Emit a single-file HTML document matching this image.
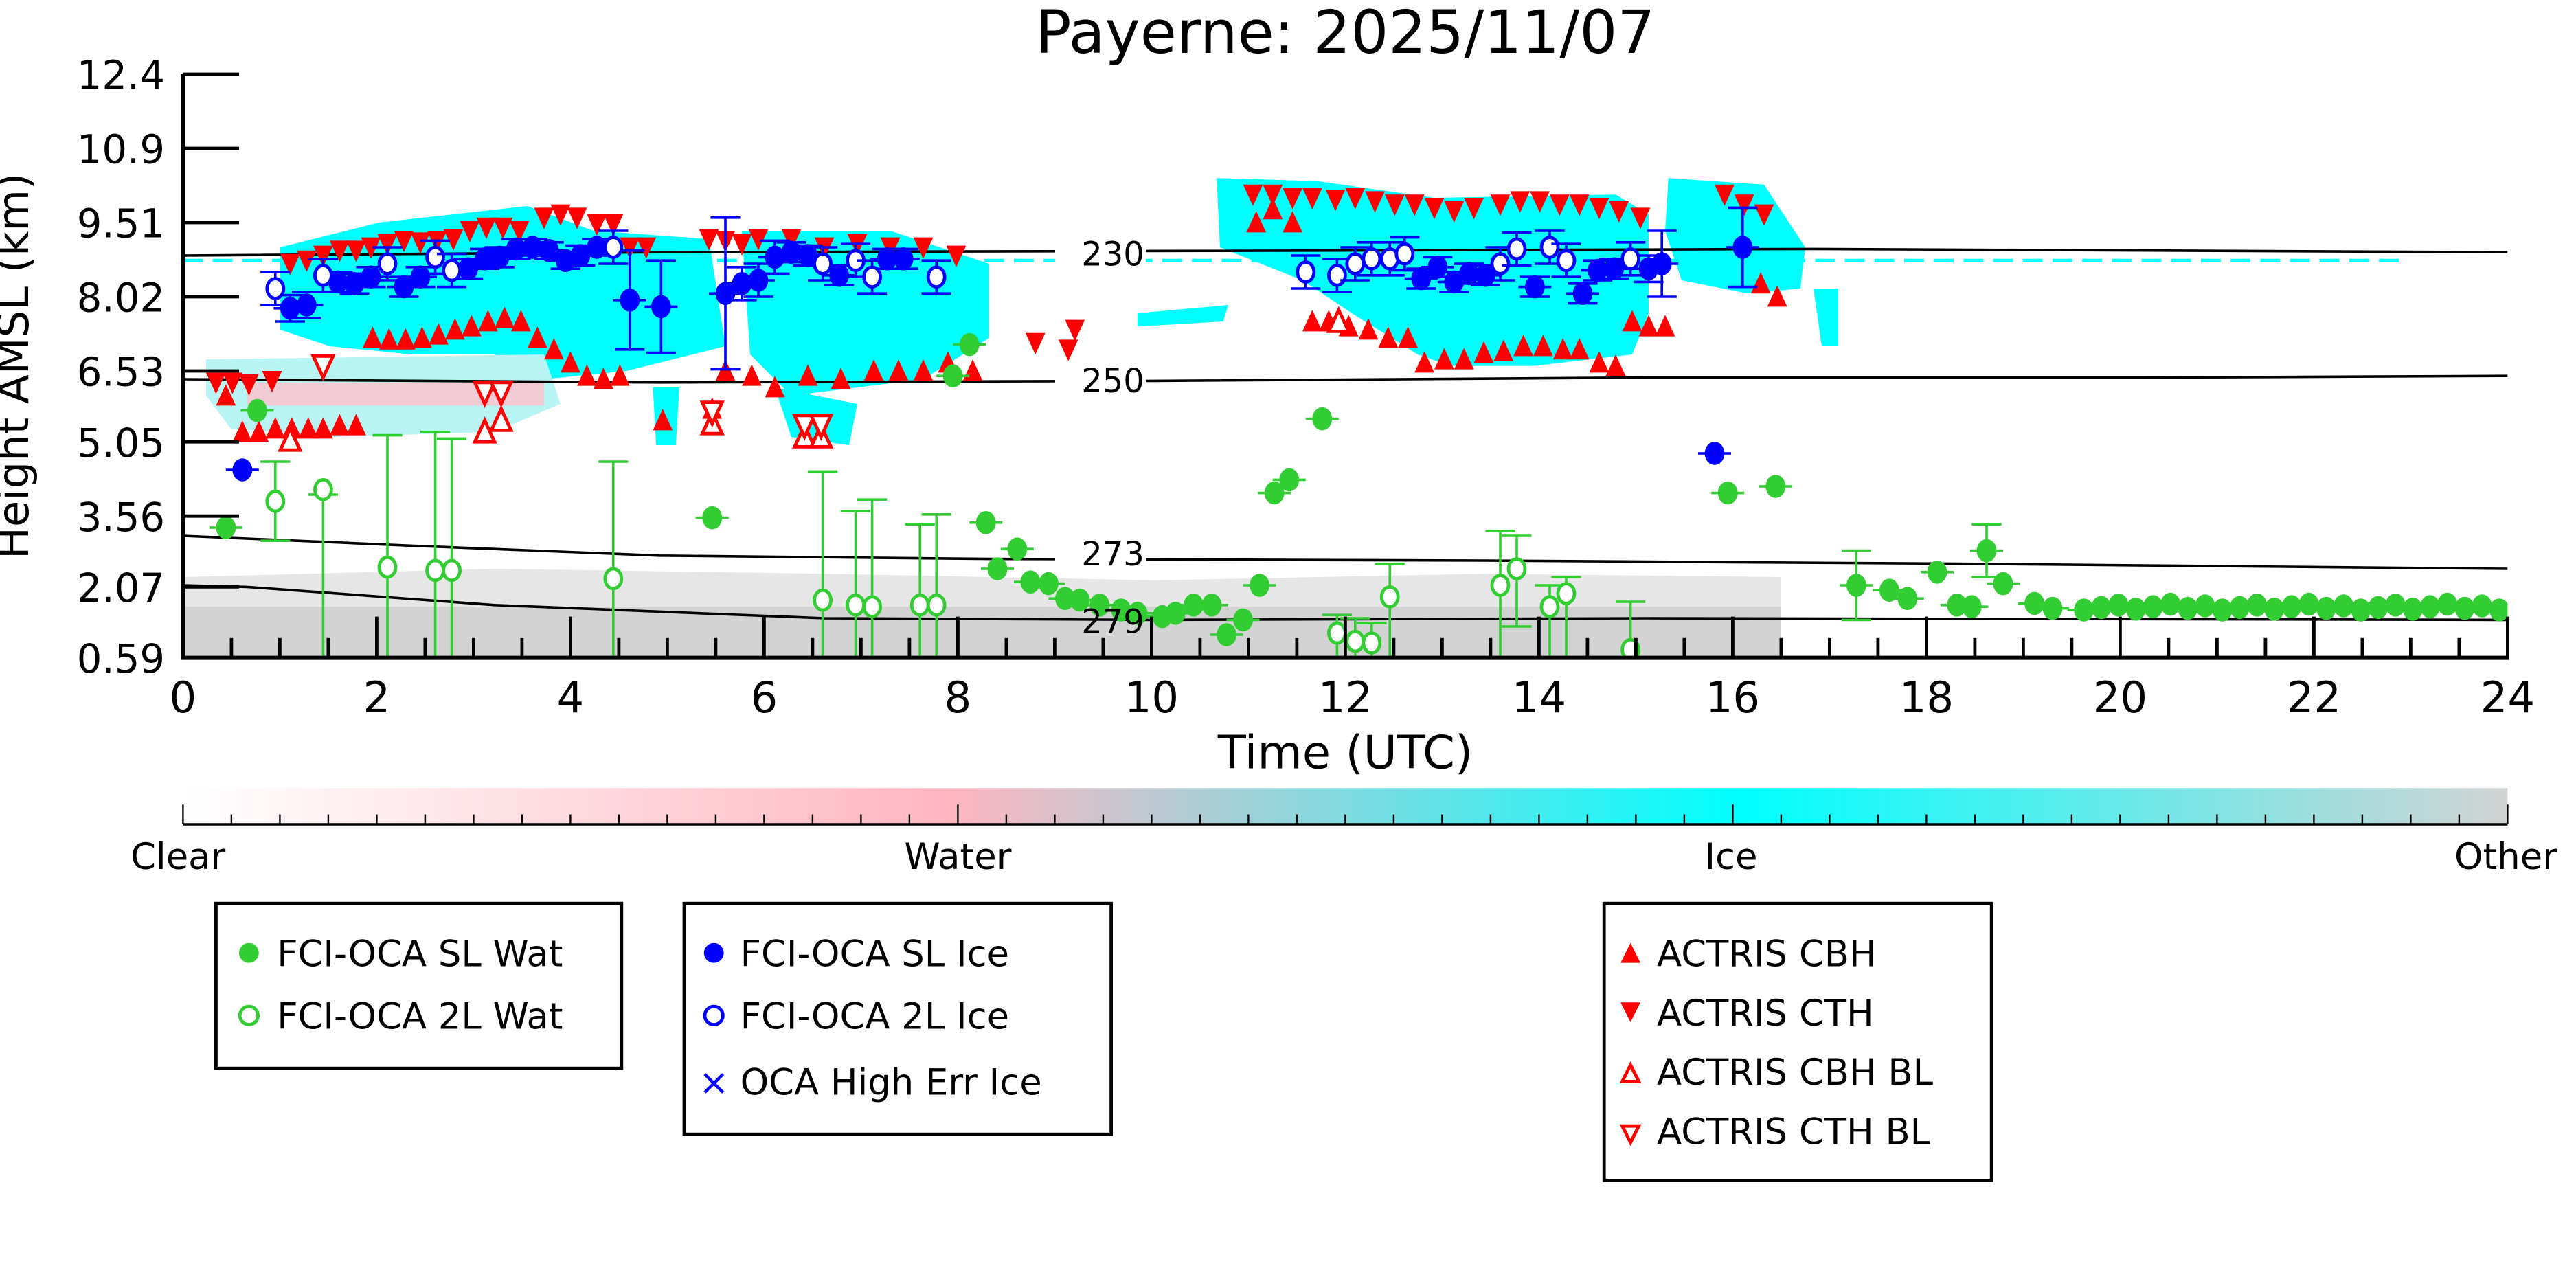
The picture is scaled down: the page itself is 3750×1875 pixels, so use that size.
<!DOCTYPE html>
<html><head><meta charset="utf-8"><style>
html,body{margin:0;padding:0;background:#fff}
svg{display:block}
text{font-family:"DejaVu Sans","Liberation Sans",sans-serif}
</style></head><body>
<svg id="s" xmlns="http://www.w3.org/2000/svg" width="3750" height="1875" viewBox="0 0 1562.5 781.25">
<defs>
<linearGradient id="cb" x1="0" x2="1" y1="0" y2="0">
<stop offset="0" stop-color="#ffffff"/><stop offset="0.33" stop-color="#ffb6c1"/>
<stop offset="0.67" stop-color="#00ffff"/><stop offset="1" stop-color="#d3d3d3"/>
</linearGradient>
<clipPath id="pc"><rect x="111" y="45" width="1410" height="354"/></clipPath>
</defs>
<rect width="1562.5" height="781.25" fill="#fff"/>
<g id="bg" clip-path="url(#pc)">
<path d="M111,350 L300,345 L500,348 L700,352 L900,348 L1080,350 L1080,399 L111,399Z" fill="#e6e6e6"/>
<rect x="111" y="368" width="969" height="31" fill="#d3d3d3"/>
<path d="M170,150 L230,135 L320,125 L360,140 L430,145 L440,210 L380,225 L330,230 L300,215 L250,215 L200,210 L170,200Z" fill="#00ffff"/>
<path d="M125,218 L330,215 L340,245 L300,262 L200,265 L140,260 L125,240Z" fill="#b8f4f4"/>
<rect x="150" y="232" width="180" height="14" fill="#ffc0cb" opacity="0.8"/>
<path d="M450,140 L540,140 L600,160 L600,205 L560,230 L480,240 L455,215Z" fill="#00ffff"/>
<path d="M470,235 L520,245 L515,270 L480,265Z" fill="#00ffff"/>
<path d="M396,235 L412,235 L410,270 L398,270Z" fill="#00ffff"/>
<path d="M738,108 L800,110 L870,120 L980,118 L1000,130 L1000,190 L990,215 L930,222 L880,222 L860,215 L820,190 L790,170 L740,150Z" fill="#00ffff"/>
<path d="M1012,108 L1070,112 L1095,150 L1092,175 L1060,178 L1020,170 L1010,140Z" fill="#00ffff"/>
<path d="M1100,175 L1115,175 L1115,210 L1105,210Z" fill="#00ffff"/>
<path d="M690,190 L745,185 L742,195 L690,198Z" fill="#00ffff"/>
<line x1="111" y1="158" x2="1460" y2="158" stroke="#00ffff" stroke-width="2" stroke-dasharray="12,6"/>
<path d="M111,155 L400,153 L800,152 L1100,151 L1521,153" fill="none" stroke="#000" stroke-width="1.5"/>
<path d="M111,230 L400,232 L700,231 L1000,229 L1300,229 L1521,228" fill="none" stroke="#000" stroke-width="1.5"/>
<path d="M111,325 L250,331 L400,337 L600,339 L900,340 L1200,342 L1521,345" fill="none" stroke="#000" stroke-width="1.5"/>
<path d="M111,355 L150,356 L300,367 L500,375 L700,376 L1000,375 L1521,376" fill="none" stroke="#000" stroke-width="1.5"/>
<g id="data"></g>
</g>
<rect x="640" y="143" width="55" height="20" fill="#fff"/><text x="675" y="161" font-size="20" text-anchor="middle">230</text>
<rect x="640" y="220" width="55" height="20" fill="#fff"/><text x="675" y="238" font-size="20" text-anchor="middle">250</text>
<rect x="640" y="326" width="55" height="20" fill="#fff"/><text x="675" y="343" font-size="20" text-anchor="middle">273</text>
<text x="675" y="384" font-size="20" text-anchor="middle">279</text>
<g stroke="#000" stroke-width="2.5" fill="none">
<line x1="111" y1="45" x2="111" y2="400"/><line x1="110" y1="399" x2="1522" y2="399"/>
</g>
<g id="ticks" stroke="#000" stroke-width="2"></g>
<g id="lab" font-size="24"></g>
<text x="816" y="32" font-size="36" text-anchor="middle">Payerne: 2025/11/07</text>
<text x="816" y="466" font-size="28" text-anchor="middle">Time (UTC)</text>
<text transform="translate(17,222) rotate(-90)" font-size="26" text-anchor="middle">Height AMSL (km)</text>
<rect x="111" y="478" width="1410" height="22" fill="url(#cb)"/>
<line x1="111" y1="500" x2="1521" y2="500" stroke="#000" stroke-width="1.5"/>
<g id="cbt" stroke="#000" stroke-width="1"></g>
<g font-size="22" text-anchor="middle">
<text x="108" y="527">Clear</text><text x="581" y="527">Water</text><text x="1050" y="527">Ice</text><text x="1520" y="527">Other</text>
</g>
<g fill="none" stroke="#000" stroke-width="2">
<rect x="131" y="548" width="246" height="100"/>
<rect x="415" y="548" width="259" height="140"/>
<rect x="973" y="548" width="235" height="168"/>
</g>
<g font-size="22">
<circle cx="151" cy="578" r="6" fill="#32cd32"/><text x="168" y="586">FCI-OCA SL Wat</text>
<circle cx="151" cy="616" r="5.5" fill="#fff" stroke="#32cd32" stroke-width="2"/><text x="168" y="624">FCI-OCA 2L Wat</text>
<circle cx="433" cy="578" r="6" fill="#0000ff"/><text x="449" y="586">FCI-OCA SL Ice</text>
<circle cx="433" cy="616" r="5.5" fill="#fff" stroke="#0000ff" stroke-width="2"/><text x="449" y="624">FCI-OCA 2L Ice</text>
<text x="433" y="664" fill="#0000ff" text-anchor="middle" font-size="22">×</text><text x="449" y="664">OCA High Err Ice</text>
<path d="M983,584 L995,584 L989,572Z" fill="#ff0000"/><text x="1005" y="586">ACTRIS CBH</text>
<path d="M983,608 L995,608 L989,620Z" fill="#ff0000"/><text x="1005" y="622">ACTRIS CTH</text>
<path d="M984,656 L994,656 L989,646Z" fill="#fff" stroke="#ff0000" stroke-width="2"/><text x="1005" y="658">ACTRIS CBH BL</text>
<path d="M984,683 L994,683 L989,693Z" fill="#fff" stroke="#ff0000" stroke-width="2"/><text x="1005" y="694">ACTRIS CTH BL</text>
</g>
</svg>
<script>
var NS="http://www.w3.org/2000/svg";
function el(p,t,a){var e=document.createElementNS(NS,t);for(var k in a)e.setAttribute(k,a[k]);p.appendChild(e);return e;}
var tk=document.getElementById('ticks'),lab=document.getElementById('lab'),d=document.getElementById('data'),cbt=document.getElementById('cbt');
var yt=[[45,"12.4"],[90,"10.9"],[135,"9.51"],[180,"8.02"],[225,"6.53"],[268,"5.05"],[313,"3.56"],[356,"2.07"],[399,"0.59"]];
yt.forEach(function(v){el(tk,'line',{x1:111,y1:v[0],x2:145,y2:v[0]});var t=el(lab,'text',{x:100,y:v[0]+9,'text-anchor':'end'});t.textContent=v[1];});
for(var h=0;h<=48;h++){var x=111+h*29.375;var L=(h%4==0)?25:12;el(tk,'line',{x1:x,y1:399,x2:x,y2:399-L});
 if(h%4==0){var t=el(lab,'text',{x:x,y:432,'text-anchor':'middle','font-size':26});t.textContent=h/2;}}
for(var i=0;i<=48;i++){var x=111+i*29.375;el(cbt,'line',{x1:x,y1:500,x2:x,y2:(i%16==0)?488:494});}
function up(x,y,f){el(d,'path',{d:'M'+(x-6)+','+(y+6)+' L'+(x+6)+','+(y+6)+' L'+x+','+(y-7)+'Z',fill:f?'#f00':'#fff',stroke:'#f00','stroke-width':f?0:2});}
function dn(x,y,f){el(d,'path',{d:'M'+(x-6)+','+(y-6)+' L'+(x+6)+','+(y-6)+' L'+x+','+(y+7)+'Z',fill:f?'#f00':'#fff',stroke:'#f00','stroke-width':f?0:2});}
function eb(x,y1,y2,c){el(d,'line',{x1:x,y1:y1,x2:x,y2:y2,stroke:c,'stroke-width':1.5});el(d,'line',{x1:x-9,y1:y1,x2:x+9,y2:y1,stroke:c,'stroke-width':1.5});el(d,'line',{x1:x-9,y1:y2,x2:x+9,y2:y2,stroke:c,'stroke-width':1.5});}
function pt(x,y,c,fill){el(d,'ellipse',{cx:x,cy:y,rx:fill?6:5,ry:fill?7:6,fill:fill?c:'#fff',stroke:c,'stroke-width':fill?0:2});}
var ct=[[131,232],[141,232],[151,233],[165,231],[176,160],[186,158],[196,155],[206,152],[216,152],[225,150],[235,148],[245,146],[255,147],[265,146],[275,145],[285,140],[295,138],[305,138],[315,140],[330,132],[340,130],[350,132],[362,136],[372,136],[382,150],[392,150],[430,145],[440,146],[450,148],[460,145],[480,145],[500,150],[520,148],[540,150],[560,150],[580,155],[628,208],[652,200],[648,212],[760,118],[772,118],[784,120],[796,120],[810,121],[822,120],[834,122],[846,124],[858,124],[870,126],[882,128],[894,126],[910,124],[922,122],[934,122],[946,124],[958,124],[970,126],[982,128],[995,132],[1046,118],[1058,124],[1070,130]];
ct.forEach(function(p){dn(p[0],p[1],true);});
var cb=[[137,240],[147,262],[157,262],[167,260],[177,260],[187,260],[196,260],[206,258],[216,258],[226,205],[236,206],[246,206],[256,205],[266,203],[276,200],[286,198],[296,195],[306,193],[316,195],[326,205],[336,212],[346,220],[356,228],[366,230],[376,228],[402,255],[432,248],[440,225],[456,228],[470,235],[490,228],[510,230],[530,225],[545,225],[560,225],[575,220],[590,225],[762,135],[772,127],[784,135],[796,195],[806,195],[818,198],[830,200],[842,205],[854,205],[864,220],[876,218],[888,218],[900,214],[912,213],[924,210],[936,210],[948,212],[958,212],[970,220],[980,222],[990,195],[1000,198],[1010,198],[1068,172],[1078,180]];
cb.forEach(function(p){up(p[0],p[1],true);});
[[176,267],[294,262],[304,255],[432,257],[488,265],[498,265],[812,195]].forEach(function(p){up(p[0],p[1],false);});
[[196,222],[294,238],[304,238],[432,250],[488,258],[498,258]].forEach(function(p){dn(p[0],p[1],false);});
var gs=[[137,320],[156,249],[432,314],[588,209],[578,228],[598,317],[605,345],[617,333],[625,353],[636,354],[646,363],[655,364],[667,367],[680,370],[690,372],[705,374],[713,372],[724,367],[735,367],[744,385],[754,376],[764,355],[773,299],[782,291],[802,254],[1048,299],[1077,295],[1126,355],[1146,358],[1157,363],[1175,347],[1187,367],[1196,368],[1205,334],[1215,354],[1234,366],[1245,369]];
for(var x=1264;x<1521;x+=10.5)gs.push([x,370-((x*7)%4)]);
gs.forEach(function(p){el(d,'line',{x1:p[0]-10,y1:p[1],x2:p[0]+10,y2:p[1],stroke:'#32cd32','stroke-width':1.5});pt(p[0],p[1],'#32cd32',true);});
eb(1126,334,376,'#32cd32');eb(1205,318,350,'#32cd32');
var go=[[167,304,280,328],[196,297,300,399],[235,344,264,399],[264,346,262,399],[274,346,266,399],[372,351,280,399],[499,364,286,399],[519,367,310,399],[529,368,303,399],[558,367,318,399],[568,367,312,399],[811,384,373,399],[822,389,375,399],[832,390,378,399],[843,362,342,399],[910,355,322,399],[920,345,325,380],[940,368,355,399],[950,360,350,399],[989,394,365,399]];
go.forEach(function(p){eb(p[0],p[2],p[3],'#32cd32');pt(p[0],p[1],'#32cd32',false);});
var bs=[[147,285,0],[1040,275,0],[176,187,8],[186,185,8],[205,171,6],[215,172,6],[225,168,6],[245,174,6],[255,168,6],[284,163,6],[294,157,6],[303,156,6],[313,151,6],[323,150,5],[333,152,5],[343,158,5],[352,155,6],[362,150,5],[382,182,30],[401,186,28],[440,178,46],[450,172,10],[460,170,10],[470,156,10],[480,153,6],[490,155,6],[509,167,6],[538,157,6],[548,157,6],[862,169,6],[872,162,6],[882,171,6],[891,166,6],[901,167,6],[931,174,6],[960,178,6],[969,164,6],[979,163,6],[1008,160,20],[1057,150,24],[1000,163,8]];
bs.forEach(function(p){if(p[2])eb(p[0],p[1]-p[2],p[1]+p[2],'#0000ff');el(d,'line',{x1:p[0]-10,y1:p[1],x2:p[0]+10,y2:p[1],stroke:'#00f','stroke-width':1.5});pt(p[0],p[1],'#0000ff',true);});
var bo=[[167,175],[196,167],[235,160],[264,156],[274,164],[372,150],[499,160],[519,158],[529,168],[568,168],[792,165],[811,167],[822,160],[832,157],[843,157],[852,154],[910,160],[920,151],[940,150],[950,158],[989,157]];
bo.forEach(function(p){eb(p[0],p[1]-10,p[1]+10,'#0000ff');pt(p[0],p[1],'#0000ff',false);});
</script>
</body></html>
